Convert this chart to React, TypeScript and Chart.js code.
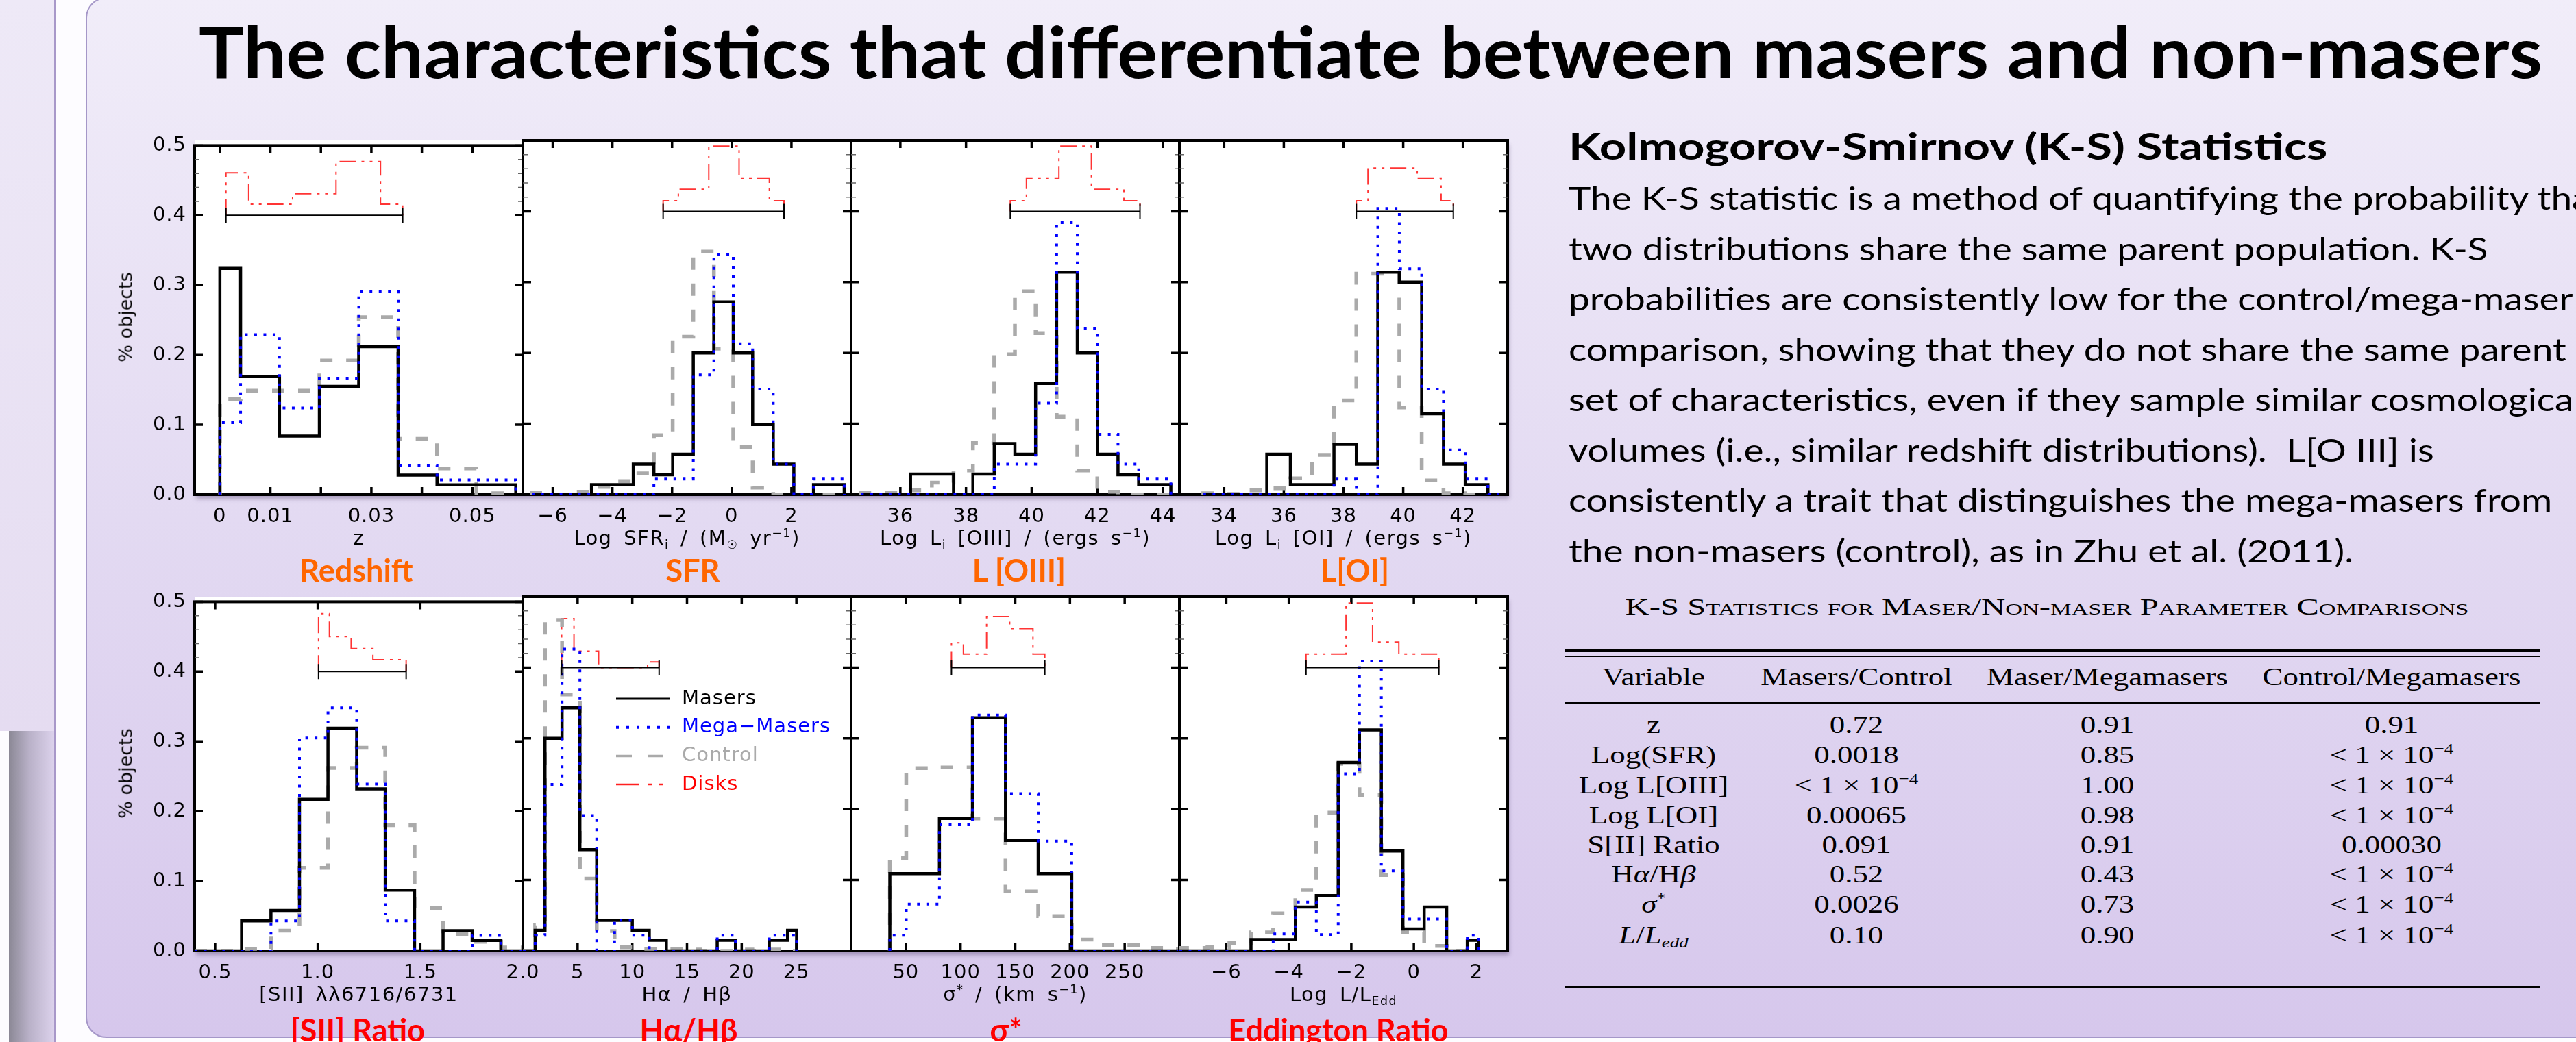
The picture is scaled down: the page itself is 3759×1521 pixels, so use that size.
import React, { useEffect, useRef } from 'react';
import { Chart, registerables } from 'chart.js';

Chart.register(...registerables);

// ===================== DATA =====================
const SERIES_NAMES = ['Masers', 'Mega−Masers', 'Control', 'Disks'];
const Y_TICKS = [0, 0.1, 0.2, 0.3, 0.4, 0.5];
const Y_TICK_LABELS = ['0.0', '0.1', '0.2', '0.3', '0.4', '0.5'];
const Y_MINOR_TICKS = [0.42, 0.44, 0.46, 0.48];
const DISK_BASE = 0.4;

// 1. Redshift
const Z_RANGE = [-0.005, 0.06];
const Z_TICKS = [0, 0.01, 0.02, 0.03, 0.04, 0.05];
const Z_TICK_LABELS = ['0', '0.01', '', '0.03', '', '0.05'];
const Z_EDGES = [0, 0.0041, 0.0118, 0.0197, 0.0275, 0.0353, 0.043, 0.0508, 0.0586];
const Z_MASERS = [0.324, 0.169, 0.084, 0.155, 0.212, 0.028, 0.014, 0.014];
const Z_MEGA = [0.103, 0.229, 0.124, 0.166, 0.291, 0.042, 0.021, 0.021];
const Z_CONTROL = [0.137, 0.149, 0.149, 0.192, 0.254, 0.08, 0.0375, 0.002];
const Z_DISK_EDGES = [0.0012, 0.0057, 0.0144, 0.023, 0.0318, 0.0362];
const Z_DISKS = [0.461, 0.416, 0.431, 0.477, 0.416];

// 2. SFR
const SFR_RANGE = [-7, 4];
const SFR_TICKS = [-6, -4, -2, 0, 2];
const SFR_TICK_LABELS = ['−6', '−4', '−2', '0', '2'];
const SFR_EDGES = [-6.7, -6.0, -5.35, -4.7, -3.97, -3.3, -2.61, -1.98, -1.29, -0.6, 0.05, 0.7, 1.39, 2.08, 2.74, 3.3, 3.77];
const SFR_MASERS = [0, 0, 0, 0.014, 0.014, 0.043, 0.028, 0.057, 0.2, 0.272, 0.2, 0.099, 0.043, 0, 0.014, 0.014];
const SFR_MEGA = [0, 0, 0, 0, 0, 0, 0.022, 0.022, 0.169, 0.339, 0.213, 0.149, 0.043, 0, 0.022, 0.022];
const SFR_CONTROL = [0.003, 0, 0.004, 0.011, 0.019, 0.03, 0.084, 0.223, 0.343, 0.206, 0.067, 0.01, 0, 0, 0, 0];
const SFR_DISK_EDGES = [-2.3, -1.79, -0.77, 0.245, 1.26, 1.75];
const SFR_DISKS = [0.415, 0.431, 0.492, 0.446, 0.415];

// 3. L[OIII]
const O3_RANGE = [34.5, 44.5];
const O3_TICKS = [36, 38, 40, 42, 44];
const O3_TICK_LABELS = ['36', '38', '40', '42', '44'];
const O3_EDGES = [34.8, 35.5, 36.31, 36.96, 37.62, 38.21, 38.86, 39.49, 40.12, 40.76, 41.39, 42.0, 42.63, 43.26, 43.8, 44.24];
const O3_MASERS = [0, 0, 0.029, 0.029, 0, 0.029, 0.072, 0.057, 0.157, 0.314, 0.2, 0.057, 0.028, 0.014, 0.014];
const O3_MEGA = [0, 0, 0, 0, 0, 0, 0.043, 0.043, 0.129, 0.384, 0.234, 0.085, 0.043, 0.022, 0.022];
const O3_CONTROL = [0.003, 0.003, 0.006, 0.017, 0.034, 0.073, 0.198, 0.287, 0.228, 0.11, 0.034, 0.004, 0, 0, 0];
const O3_DISK_EDGES = [39.35, 39.84, 40.83, 41.82, 42.81, 43.3];
const O3_DISKS = [0.415, 0.446, 0.492, 0.431, 0.415];

// 4. L[OI]
const O1_RANGE = [32.5, 43.5];
const O1_TICKS = [34, 36, 38, 40, 42];
const O1_TICK_LABELS = ['34', '36', '38', '40', '42'];
const O1_EDGES = [33.3, 34.0, 34.77, 35.43, 36.22, 36.95, 37.68, 38.43, 39.15, 39.87, 40.62, 41.35, 42.08, 42.84, 43.2];
const O1_MASERS = [0, 0, 0, 0.057, 0.014, 0.014, 0.071, 0.043, 0.314, 0.3, 0.114, 0.043, 0.014, 0];
const O1_MEGA = [0, 0, 0, 0, 0, 0, 0.022, 0, 0.404, 0.319, 0.149, 0.063, 0.022, 0];
const O1_CONTROL = [0.002, 0.001, 0.006, 0.009, 0.023, 0.056, 0.133, 0.312, 0.312, 0.123, 0.02, 0.002, 0, 0];
const O1_DISK_EDGES = [38.43, 38.82, 40.47, 41.27, 41.68];
const O1_DISKS = [0.415, 0.461, 0.446, 0.415];

// 5. [SII] ratio
const S2_RANGE = [0.4, 2.0];
const S2_TICKS = [0.5, 1.0, 1.5, 2.0];
const S2_TICK_LABELS = ['0.5', '1.0', '1.5', '2.0'];
const S2_EDGES = [0.4, 0.489, 0.629, 0.772, 0.911, 1.05, 1.19, 1.329, 1.472, 1.611, 1.753, 1.893, 2.03];
const S2_MASERS = [0, 0, 0.043, 0.058, 0.217, 0.319, 0.232, 0.087, 0, 0.029, 0.015, 0];
const S2_MEGA = [0, 0, 0, 0.043, 0.305, 0.348, 0.239, 0.043, 0, 0, 0.022, 0];
const S2_CONTROL = [0, 0, 0.003, 0.029, 0.119, 0.262, 0.291, 0.18, 0.061, 0.024, 0.013, 0.005];
const S2_DISK_EDGES = [1.004, 1.057, 1.163, 1.269, 1.431];
const S2_DISKS = [0.483, 0.45, 0.433, 0.417];

// 6. Halpha / Hbeta
const BD_RANGE = [0, 30];
const BD_TICKS = [5, 10, 15, 20, 25];
const BD_TICK_LABELS = ['5', '10', '15', '20', '25'];
const BD_EDGES = [0, 1.12, 2.02, 3.58, 5.21, 6.75, 8.38, 10.0, 11.55, 13.11, 14.66, 16.2, 17.76, 19.43, 20.97, 22.52, 24.19, 25.02];
const BD_MASERS = [0, 0.029, 0.3, 0.343, 0.143, 0.043, 0.043, 0.029, 0.015, 0, 0, 0, 0.015, 0, 0, 0.015, 0.029];
const BD_MEGA = [0, 0.022, 0.235, 0.426, 0.191, 0, 0.043, 0.022, 0, 0, 0, 0, 0.022, 0, 0, 0.022, 0.022];
const BD_CONTROL = [0, 0.036, 0.467, 0.362, 0.102, 0.028, 0.005, 0.003, 0.003, 0.003, 0.002, 0, 0, 0.002, 0, 0.002, 0];
const BD_DISK_EDGES = [3.54, 4.67, 6.92, 11.4, 12.45];
const BD_DISKS = [0.469, 0.423, 0.4, 0.408];

// 7. sigma*
const SIG_RANGE = [0, 300];
const SIG_TICKS = [50, 100, 150, 200, 250];
const SIG_TICK_LABELS = ['50', '100', '150', '200', '250'];
const SIG_EDGES = [35.4, 50.4, 80.7, 110.9, 141.1, 171.0, 201.6, 231.0, 262.0, 293.0, 300];
const SIG_MASERS = [0.109, 0.109, 0.187, 0.329, 0.156, 0.109, 0, 0, 0, 0];
const SIG_MEGA = [0.022, 0.066, 0.178, 0.333, 0.222, 0.155, 0, 0, 0, 0];
const SIG_CONTROL = [0.131, 0.258, 0.259, 0.187, 0.084, 0.049, 0.016, 0.008, 0.004, 0.003];
const SIG_DISK_EDGES = [91.7, 102.6, 123.8, 144.9, 166.2, 177.0];
const SIG_DISKS = [0.435, 0.419, 0.472, 0.455, 0.419];

// 8. Eddington ratio
const ED_RANGE = [-7.5, 3];
const ED_TICKS = [-6, -4, -2, 0, 2];
const ED_TICK_LABELS = ['−6', '−4', '−2', '0', '2'];
const ED_EDGES = [-7.5, -6.6, -5.9, -5.21, -4.5, -3.79, -3.12, -2.42, -1.74, -1.04, -0.35, 0.33, 1.05, 1.71, 2.07];
const ED_MASERS = [0, 0, 0, 0.016, 0.016, 0.062, 0.078, 0.266, 0.312, 0.141, 0.031, 0.062, 0, 0.015];
const ED_MEGA = [0, 0, 0, 0, 0.024, 0.069, 0.023, 0.25, 0.409, 0.113, 0.045, 0.045, 0, 0.022];
const ED_CONTROL = [0.004, 0.005, 0.011, 0.026, 0.053, 0.086, 0.195, 0.264, 0.22, 0.107, 0.026, 0.007, 0, 0.001];
const ED_DISK_EDGES = [-3.45, -2.17, -1.32, -0.48, 0.8];
const ED_DISKS = [0.419, 0.491, 0.436, 0.419];

// text content
const TITLE = 'The characteristics that differentiate between masers and non-masers';
const TOP_LABELS = ['Redshift', 'SFR', 'L [OIII]', 'L[OI]'];
const BOTTOM_LABELS = ['[SII] Ratio', 'Hα/Hβ', 'σ*', 'Eddington Ratio'];
const AXIS_TITLES = [
  [['z']],
  [['Log SFR'], ['i', 'sub'], [' / (M'], ['☉', 'sub'], [' yr'], ['−1', 'sup'], [')']],
  [['Log L'], ['i', 'sub'], [' [OIII] / (ergs s'], ['−1', 'sup'], [')']],
  [['Log L'], ['i', 'sub'], [' [OI] / (ergs s'], ['−1', 'sup'], [')']],
  [['[SII] λλ6716/6731']],
  [['Hα / Hβ']],
  [['σ'], ['*', 'sup'], [' / (km s'], ['−1', 'sup'], [')']],
  [['Log L/L'], ['Edd', 'sub']],
];
const Y_TITLE = '% objects';
const KS_HEADING = 'Kolmogorov-Smirnov (K-S) Statistics';
const KS_LINES = [
  'The K-S statistic is a method of quantifying the probability that',
  'two distributions share the same parent population. K-S',
  'probabilities are consistently low for the control/mega-maser',
  'comparison, showing that they do not share the same parent',
  'set of characteristics, even if they sample similar cosmological',
  'volumes (i.e., similar redshift distributions).  L[O III] is',
  'consistently a trait that distinguishes the mega-masers from',
  'the non-masers (control), as in Zhu et al. (2011).',
];
const TABLE_CAPTION = 'K-S Statistics for Maser/Non-maser Parameter Comparisons';
const TABLE_HEADERS = ['Variable', 'Masers/Control', 'Maser/Megamasers', 'Control/Megamasers'];
const TABLE_VARS = ['z', 'Log(SFR)', 'Log L[OIII]', 'Log L[OI]', 'S[II] Ratio', 'Ha/Hb', 'sigma*', 'L/Ledd'];
const KS_MASERS_CONTROL = ['0.72', '0.0018', '<1e-4', '0.00065', '0.091', '0.52', '0.0026', '0.10'];
const KS_MASER_MEGA = ['0.91', '0.85', '1.00', '0.98', '0.91', '0.43', '0.73', '0.90'];
const KS_CONTROL_MEGA = ['0.91', '<1e-4', '<1e-4', '<1e-4', '0.00030', '<1e-4', '<1e-4', '<1e-4'];

// panel table built from the arrays above
const PANELS = [
  { range: Z_RANGE, ticks: Z_TICKS, labels: Z_TICK_LABELS, edges: Z_EDGES, masers: Z_MASERS, mega: Z_MEGA, control: Z_CONTROL, dEdges: Z_DISK_EDGES, disks: Z_DISKS },
  { range: SFR_RANGE, ticks: SFR_TICKS, labels: SFR_TICK_LABELS, edges: SFR_EDGES, masers: SFR_MASERS, mega: SFR_MEGA, control: SFR_CONTROL, dEdges: SFR_DISK_EDGES, disks: SFR_DISKS },
  { range: O3_RANGE, ticks: O3_TICKS, labels: O3_TICK_LABELS, edges: O3_EDGES, masers: O3_MASERS, mega: O3_MEGA, control: O3_CONTROL, dEdges: O3_DISK_EDGES, disks: O3_DISKS },
  { range: O1_RANGE, ticks: O1_TICKS, labels: O1_TICK_LABELS, edges: O1_EDGES, masers: O1_MASERS, mega: O1_MEGA, control: O1_CONTROL, dEdges: O1_DISK_EDGES, disks: O1_DISKS },
  { range: S2_RANGE, ticks: S2_TICKS, labels: S2_TICK_LABELS, edges: S2_EDGES, masers: S2_MASERS, mega: S2_MEGA, control: S2_CONTROL, dEdges: S2_DISK_EDGES, disks: S2_DISKS },
  { range: BD_RANGE, ticks: BD_TICKS, labels: BD_TICK_LABELS, edges: BD_EDGES, masers: BD_MASERS, mega: BD_MEGA, control: BD_CONTROL, dEdges: BD_DISK_EDGES, disks: BD_DISKS },
  { range: SIG_RANGE, ticks: SIG_TICKS, labels: SIG_TICK_LABELS, edges: SIG_EDGES, masers: SIG_MASERS, mega: SIG_MEGA, control: SIG_CONTROL, dEdges: SIG_DISK_EDGES, disks: SIG_DISKS },
  { range: ED_RANGE, ticks: ED_TICKS, labels: ED_TICK_LABELS, edges: ED_EDGES, masers: ED_MASERS, mega: ED_MEGA, control: ED_CONTROL, dEdges: ED_DISK_EDGES, disks: ED_DISKS },
];

// ===================== LAYOUT / STYLE =====================
const PAGE_W = 3759;
const PAGE_H = 1521;
const COL_LEFT = [284, 763, 1242, 1721];
const ROW_TOP = [205, 871];
const PLOT_W = 479;
const PLOT_H = 517;
const PAD_T = 22;
const PAD_R = 40;
const PAD_B = 60;
const Y_AXIS_W = 140;

const TICK_FONT = { family: 'DejaVu Sans', size: 29 };
const STYLE_MASERS = { color: '#000000', width: 4.5, dash: [] };
const STYLE_MEGA = { color: '#0000ff', width: 4, dash: [4, 9.5] };
const STYLE_CONTROL = { color: '#aaaaaa', width: 5.5, dash: [18, 20] };
const STYLE_DISKS = { color: '#ff3434', width: 2, dash: [24, 8, 4, 8, 4, 8] };
const LEGEND_STYLES = [
  { color: '#000000', text: '#000000', width: 3, dash: [] },
  { color: '#0000ff', text: '#0000ff', width: 4, dash: [4, 11] },
  { color: '#aaaaaa', text: '#aaaaaa', width: 3.5, dash: [23, 23] },
  { color: '#ff2020', text: '#ff0000', width: 2.5, dash: [34, 12, 6, 10, 6, 12] },
];

function stepPoints(edges, values, base) {
  const pts = [{ x: edges[0], y: base }];
  values.forEach((v, i) => pts.push({ x: edges[i], y: v }));
  pts.push({ x: edges[values.length], y: base });
  return pts;
}

function makePlugin(p, withLegend) {
  return {
    id: 'idlFrame',
    beforeDraw(chart) {
      chart.ctx.letterSpacing = '1px';
    },
    beforeDatasetsDraw(chart) {
      const { ctx, chartArea: a } = chart;
      const xs = chart.scales.x;
      const ys = chart.scales.y;
      ctx.save();
      ctx.setLineDash([]);
      ctx.strokeStyle = '#000';
      ctx.lineWidth = 4;
      ctx.strokeRect(a.left, a.top, a.right - a.left, a.bottom - a.top);
      ctx.lineWidth = 3.5;
      ctx.beginPath();
      p.ticks.forEach((v) => {
        const x = xs.getPixelForValue(v);
        ctx.moveTo(x, a.bottom); ctx.lineTo(x, a.bottom - 11);
        ctx.moveTo(x, a.top); ctx.lineTo(x, a.top + 11);
      });
      Y_TICKS.forEach((v) => {
        const y = ys.getPixelForValue(v);
        ctx.moveTo(a.left, y); ctx.lineTo(a.left + 12, y);
        ctx.moveTo(a.right, y); ctx.lineTo(a.right - 12, y);
      });
      ctx.stroke();
      ctx.lineWidth = 1.5;
      ctx.strokeStyle = '#666';
      ctx.beginPath();
      Y_MINOR_TICKS.forEach((v) => {
        const y = ys.getPixelForValue(v);
        ctx.moveTo(a.left, y); ctx.lineTo(a.left + 7, y);
        ctx.moveTo(a.right, y); ctx.lineTo(a.right - 7, y);
      });
      ctx.stroke();
      ctx.restore();
    },
    afterDatasetsDraw(chart) {
      const { ctx, chartArea: a } = chart;
      const xs = chart.scales.x;
      const ys = chart.scales.y;
      ctx.save();
      // disk range bar
      const x1 = xs.getPixelForValue(p.dEdges[0]);
      const x2 = xs.getPixelForValue(p.dEdges[p.dEdges.length - 1]);
      const y = ys.getPixelForValue(DISK_BASE);
      ctx.setLineDash([]);
      ctx.strokeStyle = '#000';
      ctx.lineWidth = 2;
      ctx.beginPath();
      ctx.moveTo(x1, y); ctx.lineTo(x2, y);
      ctx.moveTo(x1, y - 11); ctx.lineTo(x1, y + 11);
      ctx.moveTo(x2, y - 11); ctx.lineTo(x2, y + 11);
      ctx.stroke();
      if (withLegend) {
        ctx.font = '29px DejaVu Sans';
        ctx.letterSpacing = '1px';
        ctx.textBaseline = 'alphabetic';
        ctx.textAlign = 'left';
        SERIES_NAMES.forEach((name, k) => {
          const st = LEGEND_STYLES[k];
          const ly = a.top + 149 + k * 41.7;
          ctx.beginPath();
          ctx.setLineDash(st.dash);
          ctx.lineWidth = st.width;
          ctx.strokeStyle = st.color;
          ctx.moveTo(a.left + 136, ly);
          ctx.lineTo(a.left + 214, ly);
          ctx.stroke();
          ctx.setLineDash([]);
          ctx.fillStyle = st.text;
          ctx.fillText(name, a.left + 232, ly + 7.5);
        });
      }
      ctx.restore();
    },
  };
}

function Panel({ index }) {
  const ref = useRef(null);
  const p = PANELS[index];
  const col = index % 4;
  const row = Math.floor(index / 4);
  const showY = col === 0;
  const padL = showY ? Y_AXIS_W : 10;
  const width = PLOT_W + padL + PAD_R;
  const height = PLOT_H + PAD_T + PAD_B;

  useEffect(() => {
    const ds = (label, pts, st, order) => ({
      label,
      data: pts,
      borderColor: st.color,
      borderWidth: st.width,
      borderDash: st.dash,
      borderCapStyle: 'butt',
      borderJoinStyle: 'miter',
      stepped: 'before',
      pointRadius: 0,
      fill: false,
      order,
    });
    const chart = new Chart(ref.current, {
      type: 'line',
      data: {
        datasets: [
          ds(SERIES_NAMES[1], stepPoints(p.edges, p.mega, 0), STYLE_MEGA, 0),
          ds(SERIES_NAMES[0], stepPoints(p.edges, p.masers, 0), STYLE_MASERS, 1),
          ds(SERIES_NAMES[2], stepPoints(p.edges, p.control, 0), STYLE_CONTROL, 2),
          ds(SERIES_NAMES[3], stepPoints(p.dEdges, p.disks, DISK_BASE), STYLE_DISKS, 3),
        ],
      },
      options: {
        animation: false,
        responsive: false,
        maintainAspectRatio: false,
        events: [],
        layout: { padding: { left: showY ? 0 : 10, top: PAD_T, right: PAD_R, bottom: 0 } },
        plugins: { legend: { display: false }, tooltip: { enabled: false }, title: { display: false } },
        scales: {
          x: {
            type: 'linear',
            min: p.range[0],
            max: p.range[1],
            afterBuildTicks: (s) => { s.ticks = p.ticks.map((v) => ({ value: v })); },
            afterFit: (s) => { s.height = PAD_B; },
            ticks: {
              callback: (v, i) => p.labels[i],
              font: TICK_FONT,
              color: '#000',
              padding: 15,
              maxRotation: 0,
              minRotation: 0,
              autoSkip: false,
            },
            grid: { display: false, drawTicks: false, tickLength: 0 },
            border: { display: false },
          },
          y: {
            type: 'linear',
            min: 0,
            max: 0.5,
            display: showY,
            afterBuildTicks: (s) => { s.ticks = Y_TICKS.map((v) => ({ value: v })); },
            afterFit: (s) => { s.width = showY ? Y_AXIS_W : 0; },
            ticks: {
              callback: (v, i) => Y_TICK_LABELS[i],
              font: TICK_FONT,
              color: '#000',
              padding: 12,
              autoSkip: false,
            },
            grid: { display: false, drawTicks: false, tickLength: 0 },
            border: { display: false },
          },
        },
      },
      plugins: [makePlugin(p, index === 5)],
    });
    return () => chart.destroy();
  }, []);

  return (
    <canvas
      ref={ref}
      width={width}
      height={height}
      style={{ position: 'absolute', left: COL_LEFT[col] - padL, top: ROW_TOP[row] - PAD_T, width, height }}
    />
  );
}

// ===================== TEXT HELPERS =====================
let MCTX = null;
function measure(text, font) {
  if (!MCTX) MCTX = document.createElement('canvas').getContext('2d');
  MCTX.font = font;
  return MCTX.measureText(text).width || 1;
}

const K_LATO = 0.887;
const K_DEJAVU = 0.846;
const K_SERIF = 0.8375;

function Txt({ x, base, size, family, k, weight = 400, color = '#000', align = 'left', sx = 1, extra = {}, children }) {
  const transform = align === 'center' ? `translateX(-50%) scaleX(${sx})` : `scaleX(${sx})`;
  return (
    <div
      style={{
        position: 'absolute',
        left: x,
        top: base - k * size,
        fontFamily: family,
        fontSize: size,
        fontWeight: weight,
        lineHeight: `${size}px`,
        color,
        whiteSpace: 'pre',
        transform,
        transformOrigin: align === 'center' ? 'center' : 'left',
        ...extra,
      }}
    >
      {children}
    </div>
  );
}

const subStyle = { fontSize: '0.6em', position: 'relative', top: '0.3em' };
const supStyle = { fontSize: '0.6em', position: 'relative', top: '-0.65em' };

function Rich({ segs }) {
  return (
    <>
      {segs.map((s, i) =>
        s[1] === 'sub' ? <span key={i} style={subStyle}>{s[0]}</span>
          : s[1] === 'sup' ? <span key={i} style={supStyle}>{s[0]}</span>
            : <span key={i}>{s[0]}</span>
      )}
    </>
  );
}

function cell(v) {
  if (v === '<1e-4') return <>{'< 1 × 10'}<span style={supStyle}>−4</span></>;
  return v;
}

function varCell(v) {
  if (v === 'Ha/Hb') return <>H<i>α</i>/H<i>β</i></>;
  if (v === 'sigma*') return <><i>σ</i><span style={supStyle}>*</span></>;
  if (v === 'L/Ledd') return <><i>L</i>/<i>L</i><span style={{ ...subStyle, fontStyle: 'italic' }}>edd</span></>;
  return v;
}

// ===================== APP =====================
export default function App() {
  const titleSx = 3420 / measure(TITLE, 'bold 104px Lato');
  const headSx = 1109 / measure(KS_HEADING, 'bold 54px Lato');
  const paraSx = 1457 / measure(KS_LINES[3], '46px Lato');
  const capSx = 1231 / measure(TABLE_CAPTION, 'small-caps 34px "Liberation Serif"');
  const tabSx = 377 / measure(TABLE_HEADERS[3], '36px "Liberation Serif"');

  const colX = [2413, 2709, 3075, 3490];
  const rowBase = [1070, 1114.5, 1158, 1202.6, 1244.8, 1288.6, 1332, 1377];
  const topLabelX = [520, 1011, 1487, 1977];
  const botLabelX = [522, 1005, 1468, 1953];
  const panelCenter = COL_LEFT.map((l) => l + PLOT_W / 2);

  return (
    <div style={{ position: 'absolute', left: 0, top: 0, width: PAGE_W, height: PAGE_H, overflow: 'hidden', background: '#fdfcff' }}>
      {/* left decorations */}
      <div style={{ position: 'absolute', left: 0, top: 0, width: 79, height: 1067, background: 'linear-gradient(#eee9f7, #e5dcf1)' }} />
      <div style={{ position: 'absolute', left: 13, top: 1067, width: 66, height: PAGE_H - 1067, background: 'linear-gradient(to right, #8b8895, #b9b1c8 45%, #dcd2ec)' }} />
      <div style={{ position: 'absolute', left: 79, top: 0, width: 3, height: PAGE_H, background: '#a898c9' }} />
      {/* content box */}
      <div style={{ position: 'absolute', left: 125, top: -4, width: 3720, height: 1519, boxSizing: 'border-box', border: '2px solid #a597c8', borderRadius: 30, background: 'linear-gradient(#f1edf9, #e3daf2 50%, #d6c7ec)' }} />

      {/* title */}
      <Txt x={290} base={114.5} size={104} family="Lato" k={K_LATO} weight={700} sx={titleSx}>{TITLE}</Txt>

      {/* plot backgrounds */}
      {ROW_TOP.map((t, i) => (
        <div key={i} style={{ position: 'absolute', left: COL_LEFT[0], top: t, width: PLOT_W * 4, height: PLOT_H, background: '#ffffff', boxShadow: '2px 6px 6px rgba(60,40,90,0.35)' }} />
      ))}

      {PANELS.map((_, i) => <Panel key={i} index={i} />)}

      {/* y titles */}
      {ROW_TOP.map((t, i) => (
        <div key={i} style={{ position: 'absolute', left: 183, top: t + 258, fontFamily: 'DejaVu Sans', fontSize: 27, lineHeight: '27px', whiteSpace: 'pre', transform: 'translate(-50%, -50%) rotate(-90deg)' }}>{Y_TITLE}</div>
      ))}

      {/* axis titles */}
      {AXIS_TITLES.map((segs, i) => (
        <Txt key={i} x={panelCenter[i % 4]} base={i < 4 ? 796 : 1462} size={29} family="DejaVu Sans" k={K_DEJAVU} align="center" extra={{ letterSpacing: '1.5px', wordSpacing: '6px' }}>
          <Rich segs={segs} />
        </Txt>
      ))}

      {/* panel category labels */}
      {TOP_LABELS.map((t, i) => (
        <Txt key={i} x={topLabelX[i]} base={850} size={45} family="Lato" k={K_LATO} weight={700} color="#ff6600" align="center">{t}</Txt>
      ))}
      {BOTTOM_LABELS.map((t, i) => (
        <Txt key={i} x={botLabelX[i]} base={1521} size={45} family="Lato" k={K_LATO} weight={700} color="#ff0000" align="center">{t}</Txt>
      ))}

      {/* K-S text */}
      <Txt x={2289} base={234} size={54} family="Lato" k={K_LATO} weight={700} sx={headSx}>{KS_HEADING}</Txt>
      {KS_LINES.map((l, i) => (
        <Txt key={i} x={2289} base={307.3 + i * 73.5} size={46} family="Lato" k={K_LATO} sx={paraSx}>{l}</Txt>
      ))}

      {/* table */}
      <Txt x={2987} base={897} size={34} family="Liberation Serif" k={K_SERIF} align="center" sx={capSx} extra={{ fontVariant: 'small-caps' }}>{TABLE_CAPTION}</Txt>
      {[948, 956.5, 1024, 1439].map((y, i) => (
        <div key={i} style={{ position: 'absolute', left: 2284, top: y, width: 1422, height: 2.5, background: '#000' }} />
      ))}
      {TABLE_HEADERS.map((h, i) => (
        <Txt key={i} x={colX[i]} base={1000} size={36} family="Liberation Serif" k={K_SERIF} align="center" sx={tabSx}>{h}</Txt>
      ))}
      {TABLE_VARS.map((v, r) => (
        <React.Fragment key={r}>
          <Txt x={colX[0]} base={rowBase[r]} size={36} family="Liberation Serif" k={K_SERIF} align="center" sx={tabSx}>{varCell(v)}</Txt>
          <Txt x={colX[1]} base={rowBase[r]} size={36} family="Liberation Serif" k={K_SERIF} align="center" sx={tabSx}>{cell(KS_MASERS_CONTROL[r])}</Txt>
          <Txt x={colX[2]} base={rowBase[r]} size={36} family="Liberation Serif" k={K_SERIF} align="center" sx={tabSx}>{cell(KS_MASER_MEGA[r])}</Txt>
          <Txt x={colX[3]} base={rowBase[r]} size={36} family="Liberation Serif" k={K_SERIF} align="center" sx={tabSx}>{cell(KS_CONTROL_MEGA[r])}</Txt>
        </React.Fragment>
      ))}
    </div>
  );
}
